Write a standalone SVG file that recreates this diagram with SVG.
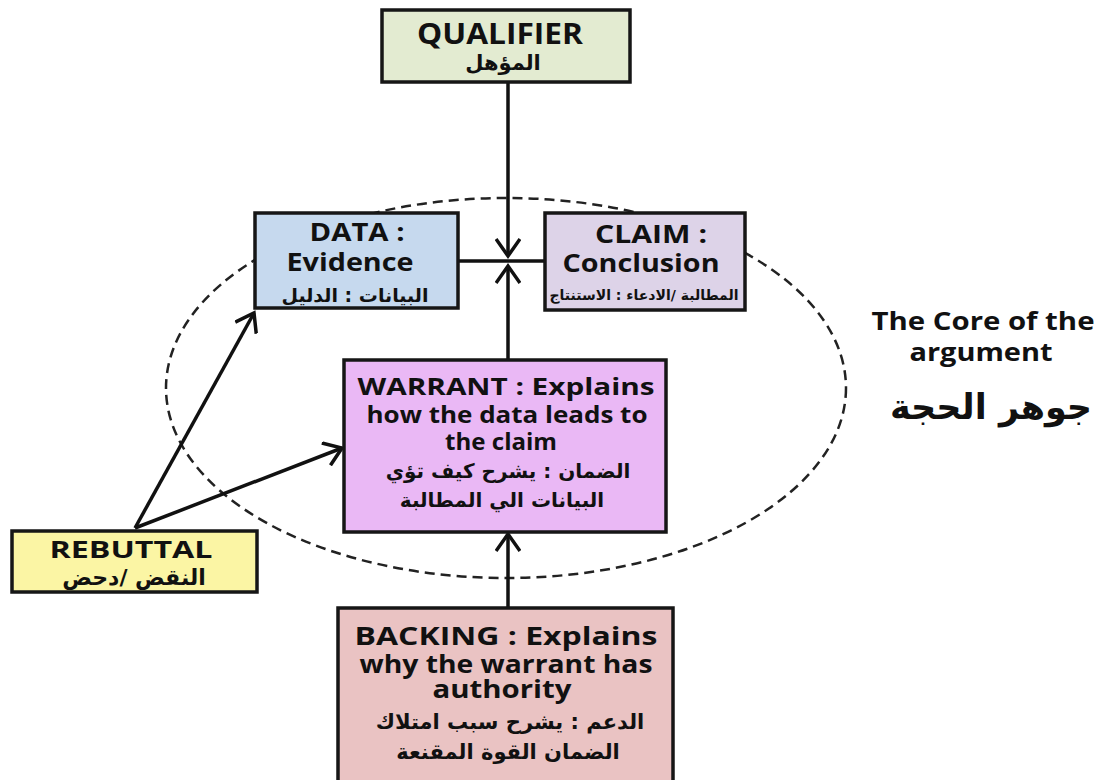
<svg xmlns="http://www.w3.org/2000/svg" width="1102" height="780" viewBox="0 0 1102 780">
<defs>
<style>
.box{stroke:#161616;stroke-width:3.5}
.en{font-family:"Open Sans","Liberation Sans",sans-serif;font-weight:bold;fill:#111;text-anchor:middle}
.ar{font-family:"DejaVu Sans","Noto Sans",sans-serif;font-weight:bold;fill:#111;text-anchor:middle}
.con{stroke:#111;stroke-width:3.5;fill:none}
</style>
<marker id="arr" viewBox="0 0 24 26" refX="19" refY="13" markerWidth="24" markerHeight="26" orient="auto" markerUnits="userSpaceOnUse">
<path d="M2,1 L19,13 L2,25" fill="none" stroke="#111" stroke-width="3.5"/>
</marker>
</defs>
<rect width="1102" height="780" fill="#ffffff"/>
<ellipse cx="506" cy="388" rx="340" ry="190" fill="none" stroke="#222" stroke-width="2.5" stroke-dasharray="10 6"/>
<g id="connectors">
<line class="con" x1="458" y1="261" x2="545" y2="261"/>
<line class="con" x1="508" y1="82" x2="508" y2="256" marker-end="url(#arr)"/>
<line class="con" x1="508" y1="360" x2="508" y2="266" marker-end="url(#arr)"/>
<line class="con" x1="508" y1="608" x2="508" y2="534" marker-end="url(#arr)"/>
<line class="con" x1="135" y1="528" x2="254" y2="313" marker-end="url(#arr)"/>
<line class="con" x1="135" y1="528" x2="342" y2="448" marker-end="url(#arr)"/>
</g>
<g id="qualifier">
<rect class="box" x="382" y="10" width="248" height="72" fill="#e3ebd1"/>
<text class="en" x="500" y="44" font-size="28" textLength="166" lengthAdjust="spacingAndGlyphs">QUALIFIER</text>
<text class="ar" x="503" y="70" font-size="21">المؤهل</text>
</g>
<g id="data">
<rect class="box" x="255" y="213" width="203" height="95" fill="#c6d9ee"/>
<text class="en" x="357" y="241" font-size="25" textLength="95" lengthAdjust="spacingAndGlyphs">DATA :</text>
<text class="en" x="350" y="271" font-size="25" textLength="127" lengthAdjust="spacingAndGlyphs">Evidence</text>
<text class="ar" x="355" y="302" font-size="19">البيانات : الدليل</text>
</g>
<g id="claim">
<rect class="box" x="545" y="213" width="200" height="97" fill="#ddd3e8"/>
<text class="en" x="651" y="243" font-size="25" textLength="112" lengthAdjust="spacingAndGlyphs">CLAIM :</text>
<text class="en" x="641" y="272" font-size="25" textLength="157" lengthAdjust="spacingAndGlyphs">Conclusion</text>
<text class="ar" x="644" y="300" font-size="14">المطالبة /الادعاء : الاستنتاج</text>
</g>
<g id="warrant">
<rect class="box" x="344" y="360" width="322" height="172" fill="#eab8f5"/>
<text class="en" x="506" y="395" font-size="24" textLength="297" lengthAdjust="spacingAndGlyphs">WARRANT : Explains</text>
<text class="en" x="507" y="423" font-size="24" textLength="281" lengthAdjust="spacingAndGlyphs">how the data leads to</text>
<text class="en" x="501" y="450" font-size="24" textLength="112" lengthAdjust="spacingAndGlyphs">the claim</text>
<text class="ar" x="508" y="478" font-size="20">الضمان : يشرح كيف تؤي</text>
<text class="ar" x="502" y="507" font-size="20">البيانات الي المطالبة</text>
</g>
<g id="rebuttal">
<rect class="box" x="12" y="531" width="245" height="61" fill="#fbf5a4"/>
<text class="en" x="131" y="558" font-size="24" textLength="163" lengthAdjust="spacingAndGlyphs">REBUTTAL</text>
<text class="ar" x="134" y="585" font-size="22">النقض /دحض</text>
</g>
<g id="backing">
<rect class="box" x="338" y="608" width="335" height="175" fill="#eac3c3"/>
<text class="en" x="506" y="645" font-size="25" textLength="303" lengthAdjust="spacingAndGlyphs">BACKING : Explains</text>
<text class="en" x="506" y="673" font-size="25" textLength="293" lengthAdjust="spacingAndGlyphs">why the warrant has</text>
<text class="en" x="502" y="698" font-size="25" textLength="139" lengthAdjust="spacingAndGlyphs">authority</text>
<text class="ar" x="510" y="729" font-size="21">الدعم : يشرح سبب امتلاك</text>
<text class="ar" x="508" y="759" font-size="21">الضمان القوة المقنعة</text>
</g>
<g id="core-label">
<text class="en" x="983" y="330" font-size="25" textLength="223" lengthAdjust="spacingAndGlyphs">The Core of the</text>
<text class="en" x="981" y="361" font-size="25" textLength="143" lengthAdjust="spacingAndGlyphs">argument</text>
<text class="ar" x="991" y="419" font-size="35">جوهر الحجة</text>
</g>
</svg>
